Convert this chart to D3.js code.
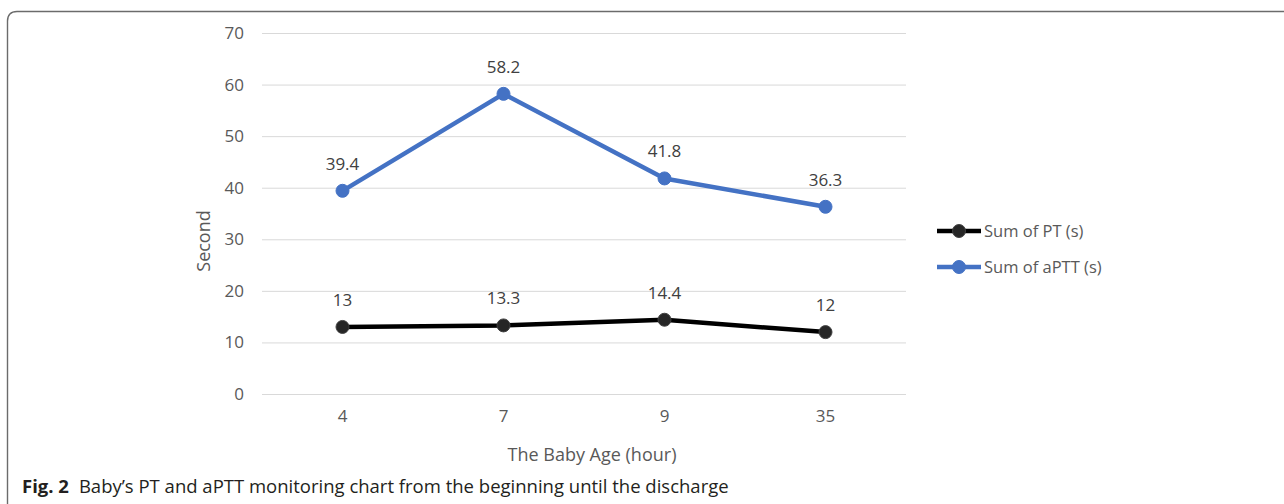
<!DOCTYPE html>
<html>
<head>
<meta charset="utf-8">
<script src="https://cdn.jsdelivr.net/npm/d3@7"></script>
<style>
  body { margin: 0; background: #fff; }
  svg { display: block; }
  .tick text { font-family: "Open Sans", sans-serif; }
</style>
</head>
<body>
<script>
const ages = ["4", "7", "9", "35"];
const ptValues = [13, 13.3, 14.4, 12];
const apttValues = [39.4, 58.2, 41.8, 36.3];
const yTicks = [0, 10, 20, 30, 40, 50, 60, 70];
const seriesNames = ["Sum of PT (s)", "Sum of aPTT (s)"];

const width = 1284;
const height = 504;
const font = "'Open Sans', sans-serif";
const textColor = "#595959";

const series = [
    { name: seriesNames[0], values: ptValues, color: "#000000", marker: "#262626" },
    { name: seriesNames[1], values: apttValues, color: "#4472C4", marker: "#4472C4" }
];

const svg = d3.select("body")
    .append("svg")
    .attr("width", width)
    .attr("height", height);

// figure frame (rounded top-left, runs off right and bottom)
svg.append("path")
    .attr("d", "M7.5,520 L7.5,21 Q7.5,11.5 17,11.5 L1290,11.5")
    .attr("fill", "none")
    .attr("stroke", "#6b6b6b")
    .attr("stroke-width", 1.4);

const scaleX = d3.scaleBand()
    .domain(ages)
    .range([262, 906]);

const scaleY = d3.scaleLinear()
    .domain([0, 70])
    .range([394, 33]);

// gridlines
svg.append("g")
    .selectAll("line")
    .data(yTicks)
    .enter()
    .append("line")
    .attr("x1", 262)
    .attr("x2", 906)
    .attr("y1", d => scaleY(d) + 0.5)
    .attr("y2", d => scaleY(d) + 0.5)
    .attr("stroke", "#d9d9d9")
    .attr("stroke-width", 1);

const yAxis = d3.axisLeft(scaleY)
    .tickValues(yTicks)
    .tickSize(0)
    .tickPadding(18);

svg.append("g")
    .attr("transform", "translate(262,0)")
    .call(yAxis)
    .call(g => g.select(".domain").remove())
    .selectAll("text")
    .attr("fill", textColor)
    .style("font-size", "17px");

const xAxis = d3.axisBottom(scaleX)
    .tickSize(0)
    .tickPadding(16);

svg.append("g")
    .attr("transform", "translate(0,394)")
    .call(xAxis)
    .call(g => g.select(".domain").remove())
    .selectAll("text")
    .attr("fill", textColor)
    .style("font-size", "17px");

const cx = d => scaleX(d) + scaleX.bandwidth() / 2;

const line = d3.line()
    .x((d, i) => cx(ages[i]))
    .y(d => scaleY(d));

series.forEach(s => {
    svg.append("path")
        .datum(s.values)
        .attr("d", line)
        .attr("fill", "none")
        .attr("stroke", s.color)
        .attr("stroke-width", 4.5)
        .attr("stroke-linejoin", "round");

    svg.append("g")
        .selectAll("circle")
        .data(s.values)
        .enter()
        .append("circle")
        .attr("cx", (d, i) => cx(ages[i]))
        .attr("cy", d => scaleY(d))
        .attr("r", 6.5)
        .attr("fill", s.marker)
        .attr("stroke", s.marker === "#262626" ? "#404040" : s.marker)
        .attr("stroke-width", 1);

    svg.append("g")
        .selectAll("text")
        .data(s.values)
        .enter()
        .append("text")
        .attr("x", (d, i) => cx(ages[i]))
        .attr("y", d => scaleY(d) - 21)
        .attr("text-anchor", "middle")
        .attr("fill", "#404040")
        .style("font-family", font)
        .style("font-size", "17px")
        .text(d => d);
});

// axis titles
svg.append("text")
    .attr("x", 592)
    .attr("y", 461)
    .attr("text-anchor", "middle")
    .attr("fill", textColor)
    .style("font-family", font)
    .style("font-size", "18px")
    .text("The Baby Age (hour)");

svg.append("text")
    .attr("transform", "rotate(-90)")
    .attr("x", -241)
    .attr("y", 210)
    .attr("text-anchor", "middle")
    .attr("fill", textColor)
    .style("font-family", font)
    .style("font-size", "18px")
    .text("Second");

// legend
const legend = svg.append("g")
    .attr("transform", "translate(937,231)");

series.forEach((s, i) => {
    const row = legend.append("g")
        .attr("transform", `translate(0,${i * 36})`);
    row.append("line")
        .attr("x1", 0)
        .attr("x2", 44)
        .attr("stroke", s.color)
        .attr("stroke-width", 4.5);
    row.append("circle")
        .attr("cx", 22)
        .attr("r", 6.5)
        .attr("fill", s.marker)
        .attr("stroke", s.marker === "#262626" ? "#404040" : s.marker);
    row.append("text")
        .attr("x", 47)
        .attr("y", 6)
        .attr("fill", textColor)
        .style("font-family", font)
        .style("font-size", "16.5px")
        .text(s.name);
});

// caption
const caption = svg.append("text")
    .attr("x", 22)
    .attr("y", 493)
    .attr("fill", "#231f20")
    .style("font-family", font)
    .style("font-size", "18.5px");
caption.append("tspan")
    .attr("font-weight", "bold")
    .text("Fig. 2");
caption.append("tspan")
    .attr("dx", 10)
    .text("Baby’s PT and aPTT monitoring chart from the beginning until the discharge");
</script>
</body>
</html>
